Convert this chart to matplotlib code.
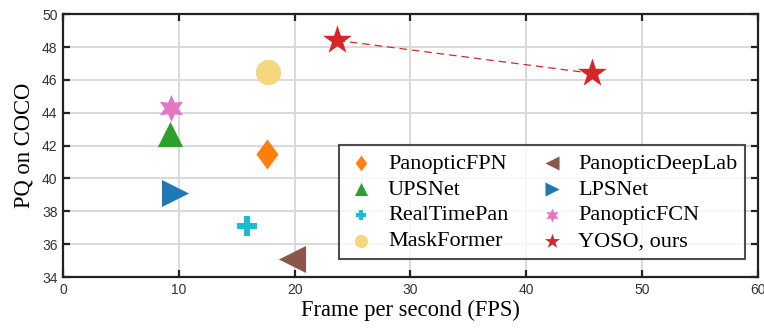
import matplotlib
matplotlib.use("Agg")
import matplotlib.pyplot as plt
import numpy as np

methods = ["PanopticFPN", "UPSNet", "RealTimePan", "MaskFormer",
           "PanopticDeepLab", "LPSNet", "PanopticFCN", "YOSO, ours"]
fps = [17.6, 9.2, 15.9, 17.7, 19.8, 9.7, 9.3, 23.7]
pq = [41.5, 42.7, 37.1, 46.5, 35.1, 39.1, 44.3, 48.4]
yoso_fast_fps = 45.7
yoso_fast_pq = 46.4

colors = ["#ff7f0e", "#2ca02c", "#17becf", "#f5d77e",
          "#8c564b", "#1f77b4", "#e377c2", "#d62728"]
diamond = np.array([[0, 1], [-0.73, 0], [0, -1], [0.73, 0], [0, 1]])
markers = [diamond, "^", "P", "o", "<", ">", (6, 1, 0), "*"]
sizes = [470, 330, 200, 330, 380, 380, 380, 480]

fig = plt.figure(figsize=(7.64, 3.29), dpi=100)
ax = fig.add_axes([0.0825, 0.158, 0.9095, 0.799])

ax.plot([fps[7], yoso_fast_fps], [pq[7], yoso_fast_pq], ls=(0, (6, 4)),
        color="#d62728", lw=0.9, zorder=2)

handles = []
for i, m in enumerate(methods):
    sc = ax.scatter(fps[i], pq[i], s=sizes[i], marker=markers[i], color=colors[i],
                    zorder=3, linewidths=0, label=m)
    handles.append(sc)
ax.scatter(yoso_fast_fps, yoso_fast_pq, s=sizes[7], marker="*",
           color=colors[7], zorder=3, linewidths=0)

ax.set_xlim(0, 60)
ax.set_ylim(34, 50)
ax.set_xticks(range(0, 61, 10))
ax.set_yticks(range(34, 51, 2))
ax.grid(True, color="#d9d9d9", lw=1.4)
ax.set_axisbelow(True)
for sp in ax.spines.values():
    sp.set_linewidth(1.6)
    sp.set_color("#222222")
ax.tick_params(direction="in", top=True, right=True, length=5, width=1.6,
               labelsize=10, colors="#222222", labelcolor="#333333", pad=4)
for lab in ax.get_xticklabels() + ax.get_yticklabels():
    lab.set_family("Liberation Sans")

ax.set_xlabel("Frame per second (FPS)", family="Liberation Serif", fontsize=16.3,
              labelpad=2)
ax.set_ylabel("PQ on COCO", family="Liberation Serif", fontsize=16.3, labelpad=5)

leg = ax.legend(handles=handles, ncol=2, loc="lower right",
                bbox_to_anchor=(0.982, 0.068), prop={"family": "Liberation Serif", "size": 16},
                frameon=True, fancybox=False, edgecolor="#222222",
                markerscale=0.52, handletextpad=0.55, columnspacing=1.3,
                labelspacing=0.24, borderpad=0.35, borderaxespad=0,
                scatterpoints=1, handlelength=1.3)
leg.get_frame().set_linewidth(1.5)
leg.set_zorder(5)

fig.savefig("out.png", dpi=100)
